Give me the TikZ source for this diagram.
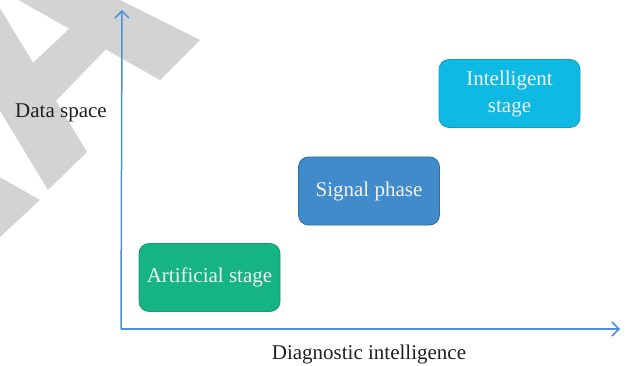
\documentclass[tikz,border=0pt]{standalone}
\usepackage{fontspec}
\setmainfont{Liberation Serif}
\usetikzlibrary{arrows.meta}
\definecolor{wm}{HTML}{D3D3D3}
\definecolor{axis}{HTML}{4D90D7}
\definecolor{gfill}{HTML}{16B384}
\definecolor{gline}{HTML}{12A075}
\definecolor{sfill}{HTML}{418BCA}
\definecolor{sline}{HTML}{2F6EA5}
\definecolor{ifill}{HTML}{0EB9E4}
\definecolor{iline}{HTML}{109FC2}
\definecolor{txt}{HTML}{231F20}
\tikzset{
  stagebox/.style={rounded corners=10pt, line width=0.8pt, minimum width=141pt, minimum height=68pt,
    text=white!95!black, align=center, inner sep=0pt, font=\fontsize{21}{27}\selectfont},
  axisline/.style={draw=axis, line width=1.5pt},
  axislabel/.style={text=txt, font=\fontsize{21}{24}\selectfont, inner sep=0pt}
}
\begin{document}
\begin{tikzpicture}[x=1pt,y=-1pt]
\useasboundingbox (0,0) rectangle (628,366);
\begin{scope}
\clip (0,0) rectangle (628,366);
\fill[wm] (80,-20) -- (200,40) -- (160,80) -- (-17,-20) -- cycle;
\fill[wm] (-17,-20) -- (87,152) -- (48,190) -- (-79,-20) -- cycle;
\fill[wm] (20,75) -- (85,14) -- (115,40) -- (45,112) -- cycle;
\fill[wm] (-20,166) -- (40,200) -- (0,237) -- (-20,237) -- cycle;
\end{scope}
\coordinate (O) at (121,329);
\coordinate (ytop) at (122,10);
\coordinate (xend) at (620,329);
\draw[axisline, -{Straight Barb[length=7pt,width=14pt,line width=1.5pt]}] (O) -- (ytop);
\draw[axisline, -{Straight Barb[length=7pt,width=14pt,line width=1.5pt]}] (O) -- (xend);
\node[axislabel] (ds) at (61,113) {Data space};
\node[axislabel] (di) at (369,354) {Diagnostic intelligence};
\node[stagebox, fill=gfill, draw=gline] (art) at (209.5,277.5) {Artificial stage};
\node[stagebox, fill=sfill, draw=sline] (sig) at (369,191) {Signal phase};
\node[stagebox, fill=ifill, draw=iline] (int) at (509.5,93.5) {Intelligent\\stage};
\end{tikzpicture}
\end{document}
